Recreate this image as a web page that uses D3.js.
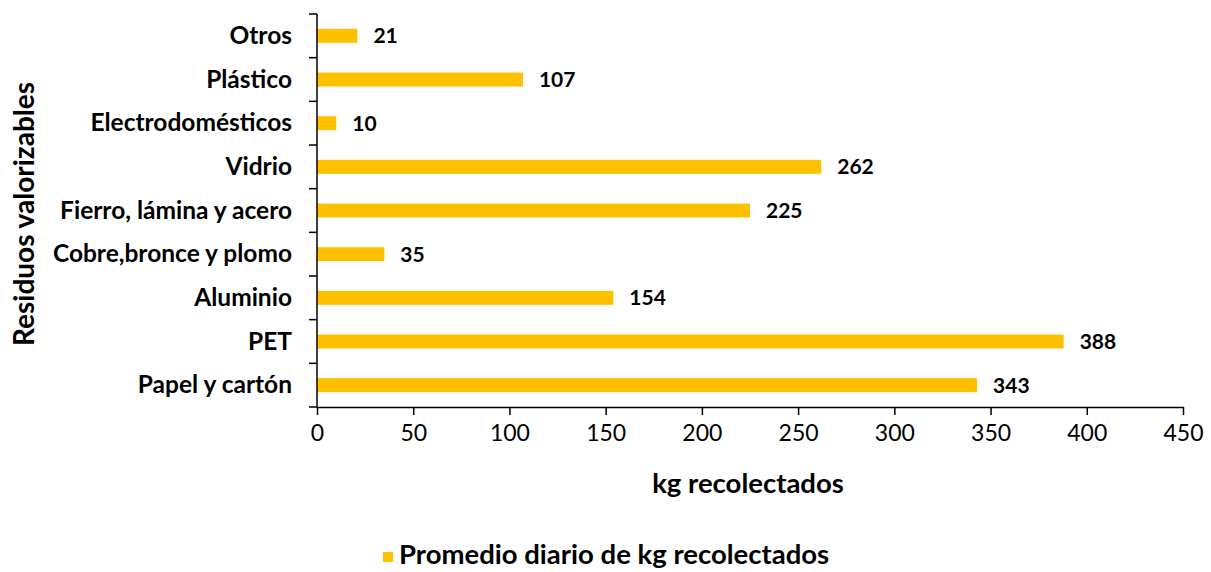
<!DOCTYPE html>
<html>
<head>
<meta charset="utf-8">
<script src="https://cdn.jsdelivr.net/npm/d3@7"></script>
<style>
  body { margin: 0; background: #fff; }
  text { font-family: Lato, "Open Sans", sans-serif; fill: #000; }
</style>
</head>
<body>
<svg id="chart"></svg>
<script>
const categories = ["Otros", "Plástico", "Electrodomésticos", "Vidrio", "Fierro, lámina y acero",
  "Cobre,bronce y plomo", "Aluminio", "PET", "Papel y cartón"];
const values = [21, 107, 10, 262, 225, 35, 154, 388, 343];
const xTicks = [0, 50, 100, 150, 200, 250, 300, 350, 400, 450];
const seriesName = "Promedio diario de kg recolectados";

const width = 1211, height = 572;
const plotLeft = 317, plotRight = 1183, plotTop = 14, plotBottom = 407;

const svg = d3.select("#chart")
    .attr("width", width)
    .attr("height", height);

const x = d3.scaleLinear().domain([0, 450]).range([plotLeft, plotRight]);
const y = d3.scaleBand().domain(categories).range([plotTop, plotBottom])
    .paddingInner(0.68).paddingOuter(0.34);

// bars
svg.selectAll("rect.bar")
    .data(values)
    .join("rect")
    .attr("class", "bar")
    .attr("x", x(0))
    .attr("y", (d, i) => y(categories[i]))
    .attr("width", d => x(d) - x(0))
    .attr("height", y.bandwidth())
    .attr("fill", "#FFC000");

// value labels
svg.selectAll("text.val")
    .data(values)
    .join("text")
    .attr("class", "val")
    .attr("x", d => x(d) + 16)
    .attr("y", (d, i) => y(categories[i]) + y.bandwidth() / 2 + 7.5)
    .attr("font-size", 21)
    .attr("font-weight", "bold")
    .text(d => d);

// y axis line + ticks at band boundaries
const step = (plotBottom - plotTop) / categories.length;
svg.append("line")
    .attr("x1", plotLeft).attr("x2", plotLeft)
    .attr("y1", plotTop).attr("y2", plotBottom)
    .attr("stroke", "#000").attr("stroke-width", 1.5);
d3.range(categories.length + 1).forEach(i => {
    svg.append("line")
        .attr("x1", plotLeft - 8).attr("x2", plotLeft)
        .attr("y1", plotTop + i * step).attr("y2", plotTop + i * step)
        .attr("stroke", "#000").attr("stroke-width", 1.5);
});

// category labels
svg.selectAll("text.cat")
    .data(categories)
    .join("text")
    .attr("class", "cat")
    .attr("x", 292)
    .attr("y", d => y(d) + y.bandwidth() / 2 + 8)
    .attr("text-anchor", "end")
    .attr("font-size", 24.5)
    .attr("font-weight", "bold")
    .text(d => d);

// x axis
const xAxis = svg.append("g")
    .attr("transform", `translate(0,${plotBottom})`)
    .call(d3.axisBottom(x).tickValues(xTicks).tickSize(8).tickSizeOuter(0).tickPadding(10));
xAxis.select(".domain").attr("stroke", "#000").attr("stroke-width", 1.5);
xAxis.selectAll(".tick line").attr("stroke", "#000").attr("stroke-width", 1.5);
xAxis.selectAll(".tick text")
    .attr("font-size", 23)
    .attr("font-family", "Lato, sans-serif")
    .attr("fill", "#000");

// x title
svg.append("text")
    .attr("x", 748).attr("y", 493)
    .attr("text-anchor", "middle")
    .attr("font-size", 27.5)
    .attr("font-weight", "bold")
    .text("kg recolectados");

// y title
svg.append("text")
    .attr("transform", "translate(34,214) rotate(-90)")
    .attr("text-anchor", "middle")
    .attr("font-size", 28)
    .attr("font-weight", "bold")
    .text("Residuos valorizables");

// legend
svg.append("rect")
    .attr("x", 383).attr("y", 552)
    .attr("width", 10).attr("height", 10)
    .attr("fill", "#FFC000");
svg.append("text")
    .attr("x", 399).attr("y", 564)
    .attr("font-size", 27.5)
    .attr("font-weight", "bold")
    .text(seriesName);
</script>
</body>
</html>
